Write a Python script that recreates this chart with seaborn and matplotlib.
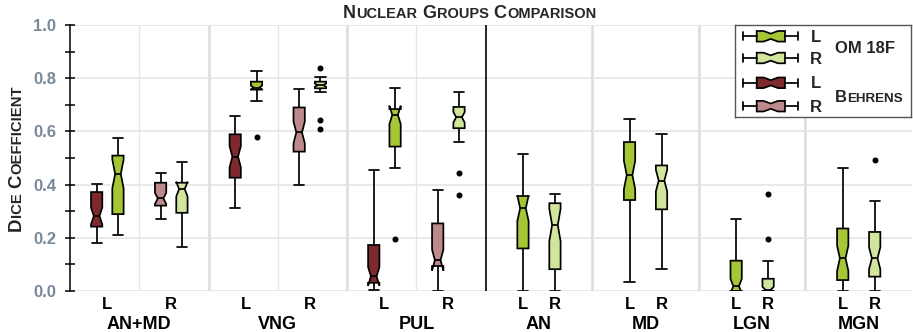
"""Nuclear groups comparison: Dice coefficient boxplots for OM 18F and Behrens."""

import matplotlib.pyplot as plt
import matplotlib.transforms as mtransforms
import numpy as np
import pandas as pd
import seaborn as sns
from matplotlib.patches import Polygon
from matplotlib.ticker import MultipleLocator

PAIRED_GROUPS = ["AN+MD", "VNG", "PUL"]
OM_ONLY_GROUPS = ["AN", "MD", "LGN", "MGN"]
SIDES = ["L", "R"]
METHODS = ["Behrens", "OM 18F"]

# Dice scores per subject (sorted), one list per box
ANMD_BEHRENS_L = [
    0.182, 0.19, 0.199, 0.205, 0.212, 0.218, 0.223, 0.229, 0.234, 0.238,
    0.242, 0.246, 0.249, 0.253, 0.258, 0.262, 0.266, 0.27, 0.275, 0.279,
    0.282, 0.29, 0.298, 0.307, 0.318, 0.326, 0.337, 0.348, 0.357, 0.366,
    0.372, 0.375, 0.378, 0.381, 0.384, 0.387, 0.39, 0.393, 0.396, 0.399, 0.402,
]
ANMD_OM_L = [
    0.209, 0.221, 0.236, 0.247, 0.255, 0.262, 0.268, 0.274, 0.279, 0.285,
    0.289, 0.301, 0.318, 0.334, 0.351, 0.368, 0.385, 0.402, 0.418, 0.431,
    0.44, 0.447, 0.455, 0.462, 0.469, 0.476, 0.484, 0.491, 0.497, 0.503,
    0.509, 0.514, 0.52, 0.526, 0.531, 0.537, 0.544, 0.551, 0.558, 0.566, 0.574,
]
ANMD_BEHRENS_R = [
    0.27, 0.278, 0.284, 0.29, 0.295, 0.3, 0.305, 0.31, 0.314, 0.318,
    0.321, 0.324, 0.327, 0.33, 0.333, 0.336, 0.339, 0.341, 0.344, 0.346,
    0.348, 0.354, 0.36, 0.366, 0.372, 0.378, 0.384, 0.391, 0.397, 0.402,
    0.407, 0.41, 0.414, 0.417, 0.421, 0.424, 0.428, 0.431, 0.435, 0.438, 0.442,
]
ANMD_OM_R = [
    0.167, 0.184, 0.203, 0.221, 0.237, 0.251, 0.263, 0.274, 0.283, 0.289,
    0.294, 0.306, 0.318, 0.329, 0.34, 0.35, 0.359, 0.367, 0.374, 0.379,
    0.383, 0.385, 0.388, 0.39, 0.392, 0.395, 0.397, 0.4, 0.402, 0.405,
    0.407, 0.414, 0.421, 0.429, 0.437, 0.446, 0.454, 0.462, 0.469, 0.477, 0.485,
]
VNG_BEHRENS_L = [
    0.313, 0.331, 0.347, 0.361, 0.374, 0.386, 0.397, 0.406, 0.414, 0.42,
    0.426, 0.434, 0.442, 0.45, 0.458, 0.466, 0.474, 0.482, 0.49, 0.498,
    0.505, 0.513, 0.521, 0.53, 0.538, 0.547, 0.556, 0.565, 0.574, 0.582,
    0.589, 0.596, 0.603, 0.61, 0.617, 0.624, 0.631, 0.638, 0.645, 0.652, 0.659,
]
VNG_OM_L = [
    0.578, 0.714, 0.724, 0.732, 0.739, 0.744, 0.748, 0.751, 0.753, 0.755,
    0.757, 0.758, 0.759, 0.76, 0.761, 0.761, 0.762, 0.763, 0.764, 0.764,
    0.765, 0.767, 0.769, 0.771, 0.773, 0.775, 0.777, 0.78, 0.782, 0.785,
    0.787, 0.79, 0.794, 0.798, 0.802, 0.806, 0.81, 0.814, 0.818, 0.823, 0.828,
]
VNG_BEHRENS_R = [
    0.397, 0.42, 0.441, 0.459, 0.474, 0.487, 0.498, 0.507, 0.514, 0.519,
    0.524, 0.531, 0.538, 0.545, 0.553, 0.56, 0.567, 0.575, 0.582, 0.589,
    0.596, 0.605, 0.614, 0.623, 0.633, 0.643, 0.653, 0.663, 0.673, 0.682,
    0.69, 0.697, 0.704, 0.711, 0.718, 0.725, 0.732, 0.739, 0.746, 0.753, 0.761,
]
VNG_OM_R = [
    0.61, 0.644, 0.749, 0.752, 0.754, 0.756, 0.757, 0.758, 0.759, 0.761,
    0.762, 0.763, 0.764, 0.765, 0.767, 0.768, 0.769, 0.77, 0.771, 0.773,
    0.774, 0.775, 0.776, 0.778, 0.779, 0.78, 0.782, 0.783, 0.784, 0.786,
    0.787, 0.789, 0.79, 0.792, 0.794, 0.796, 0.798, 0.8, 0.802, 0.805, 0.84,
]
PUL_BEHRENS_L = [
    0.004, 0.008, 0.011, 0.014, 0.017, 0.02, 0.022, 0.025, 0.027, 0.029,
    0.031, 0.033, 0.035, 0.037, 0.039, 0.041, 0.044, 0.047, 0.05, 0.052,
    0.055, 0.063, 0.072, 0.083, 0.095, 0.107, 0.12, 0.134, 0.148, 0.161,
    0.173, 0.186, 0.2, 0.215, 0.231, 0.252, 0.276, 0.305, 0.343, 0.392, 0.455,
]
PUL_OM_L = [
    0.195, 0.461, 0.478, 0.493, 0.505, 0.515, 0.523, 0.53, 0.535, 0.539,
    0.543, 0.556, 0.571, 0.585, 0.598, 0.61, 0.621, 0.633, 0.645, 0.655,
    0.662, 0.664, 0.666, 0.669, 0.671, 0.673, 0.676, 0.678, 0.68, 0.682,
    0.684, 0.691, 0.699, 0.706, 0.714, 0.722, 0.731, 0.739, 0.747, 0.756, 0.764,
]
PUL_BEHRENS_R = [
    0.0, 0.017, 0.032, 0.045, 0.056, 0.065, 0.073, 0.079, 0.085, 0.09,
    0.094, 0.097, 0.099, 0.101, 0.103, 0.106, 0.108, 0.11, 0.112, 0.114,
    0.116, 0.128, 0.14, 0.154, 0.168, 0.182, 0.196, 0.211, 0.226, 0.241,
    0.254, 0.265, 0.276, 0.287, 0.299, 0.31, 0.322, 0.334, 0.347, 0.362, 0.378,
]
PUL_OM_R = [
    0.362, 0.444, 0.559, 0.574, 0.585, 0.593, 0.599, 0.603, 0.606, 0.609,
    0.612, 0.617, 0.621, 0.626, 0.63, 0.634, 0.638, 0.642, 0.646, 0.65,
    0.653, 0.657, 0.661, 0.665, 0.669, 0.673, 0.677, 0.681, 0.685, 0.689,
    0.692, 0.697, 0.702, 0.708, 0.713, 0.719, 0.724, 0.73, 0.736, 0.742, 0.749,
]
AN_OM_L = [
    0.0, 0.025, 0.048, 0.069, 0.087, 0.103, 0.117, 0.129, 0.14, 0.151,
    0.16, 0.176, 0.193, 0.21, 0.227, 0.244, 0.261, 0.277, 0.292, 0.303,
    0.311, 0.316, 0.32, 0.325, 0.329, 0.334, 0.339, 0.344, 0.348, 0.353,
    0.357, 0.372, 0.388, 0.403, 0.418, 0.433, 0.448, 0.463, 0.478, 0.496, 0.515,
]
AN_OM_R = [
    0.0, 0.01, 0.02, 0.031, 0.041, 0.05, 0.058, 0.066, 0.072, 0.078,
    0.082, 0.098, 0.115, 0.132, 0.149, 0.166, 0.183, 0.2, 0.217, 0.233,
    0.248, 0.256, 0.264, 0.272, 0.28, 0.289, 0.297, 0.306, 0.314, 0.322,
    0.33, 0.333, 0.337, 0.34, 0.343, 0.347, 0.35, 0.353, 0.356, 0.36, 0.363,
]
MD_OM_L = [
    0.035, 0.083, 0.128, 0.168, 0.203, 0.234, 0.261, 0.285, 0.306, 0.325,
    0.342, 0.352, 0.362, 0.371, 0.381, 0.391, 0.401, 0.411, 0.42, 0.428,
    0.436, 0.448, 0.46, 0.472, 0.485, 0.497, 0.51, 0.523, 0.536, 0.548,
    0.56, 0.569, 0.578, 0.587, 0.596, 0.604, 0.613, 0.622, 0.63, 0.639, 0.647,
]
MD_OM_R = [
    0.083, 0.118, 0.15, 0.179, 0.205, 0.228, 0.249, 0.268, 0.284, 0.297,
    0.307, 0.319, 0.331, 0.343, 0.355, 0.366, 0.378, 0.389, 0.398, 0.407,
    0.415, 0.421, 0.426, 0.432, 0.438, 0.443, 0.449, 0.455, 0.461, 0.466,
    0.472, 0.484, 0.496, 0.508, 0.52, 0.532, 0.544, 0.556, 0.568, 0.579, 0.591,
]
LGN_OM_L = [
    0.0, 0.0, 0.0, 0.0, 0.0, 0.0, 0.0, 0.0, 0.0, 0.0,
    0.0, 0.002, 0.004, 0.006, 0.008, 0.01, 0.012, 0.014, 0.015, 0.017,
    0.018, 0.026, 0.034, 0.043, 0.052, 0.061, 0.071, 0.082, 0.093, 0.104,
    0.114, 0.127, 0.141, 0.155, 0.169, 0.184, 0.199, 0.215, 0.232, 0.251, 0.271,
]
LGN_OM_R = [
    0.0, 0.0, 0.0, 0.0, 0.0, 0.0, 0.0, 0.0, 0.0, 0.0,
    0.0, 0.0, 0.0, 0.001, 0.001, 0.002, 0.002, 0.003, 0.004, 0.004,
    0.005, 0.008, 0.011, 0.015, 0.019, 0.023, 0.028, 0.033, 0.038, 0.042,
    0.046, 0.053, 0.06, 0.067, 0.074, 0.081, 0.089, 0.097, 0.112, 0.197, 0.365,
]
MGN_OM_L = [
    0.0, 0.005, 0.01, 0.015, 0.019, 0.024, 0.028, 0.032, 0.035, 0.038,
    0.041, 0.049, 0.057, 0.065, 0.074, 0.082, 0.09, 0.099, 0.107, 0.115,
    0.123, 0.134, 0.145, 0.156, 0.168, 0.179, 0.19, 0.202, 0.213, 0.224,
    0.235, 0.252, 0.27, 0.288, 0.308, 0.328, 0.35, 0.374, 0.4, 0.429, 0.461,
]
MGN_OM_R = [
    0.0, 0.007, 0.014, 0.021, 0.027, 0.033, 0.038, 0.043, 0.047, 0.051,
    0.054, 0.061, 0.068, 0.075, 0.082, 0.089, 0.096, 0.103, 0.11, 0.117,
    0.123, 0.132, 0.142, 0.152, 0.162, 0.172, 0.182, 0.192, 0.202, 0.212,
    0.222, 0.233, 0.244, 0.255, 0.266, 0.277, 0.289, 0.301, 0.313, 0.338, 0.492,
]

BOXES = [
    ("AN+MD", "L", "Behrens", ANMD_BEHRENS_L),
    ("AN+MD", "L", "OM 18F", ANMD_OM_L),
    ("AN+MD", "R", "Behrens", ANMD_BEHRENS_R),
    ("AN+MD", "R", "OM 18F", ANMD_OM_R),
    ("VNG", "L", "Behrens", VNG_BEHRENS_L),
    ("VNG", "L", "OM 18F", VNG_OM_L),
    ("VNG", "R", "Behrens", VNG_BEHRENS_R),
    ("VNG", "R", "OM 18F", VNG_OM_R),
    ("PUL", "L", "Behrens", PUL_BEHRENS_L),
    ("PUL", "L", "OM 18F", PUL_OM_L),
    ("PUL", "R", "Behrens", PUL_BEHRENS_R),
    ("PUL", "R", "OM 18F", PUL_OM_R),
    ("AN", "L", "OM 18F", AN_OM_L),
    ("AN", "R", "OM 18F", AN_OM_R),
    ("MD", "L", "OM 18F", MD_OM_L),
    ("MD", "R", "OM 18F", MD_OM_R),
    ("LGN", "L", "OM 18F", LGN_OM_L),
    ("LGN", "R", "OM 18F", LGN_OM_R),
    ("MGN", "L", "OM 18F", MGN_OM_L),
    ("MGN", "R", "OM 18F", MGN_OM_R),
]

PALETTES = {
    "OM 18F": {"L": "#a5c736", "R": "#d2e59d"},
    "Behrens": {"L": "#7e2a2d", "R": "#bc8a8c"},
}
WHIS = {"OM 18F": 1.5, "Behrens": 2.0}

PAIRED_WIDTH = 1.3
BOX_WIDTH = 0.106
LINE_W = 1.25
FIG_W, FIG_H = 913, 332


def group_center(group: str) -> float:
    if group in PAIRED_GROUPS:
        return PAIRED_WIDTH * (PAIRED_GROUPS.index(group) + 0.5)
    return PAIRED_WIDTH * len(PAIRED_GROUPS) + OM_ONLY_GROUPS.index(group) + 0.5


def side_center(group: str, side: str) -> float:
    offset = 0.3 if group in PAIRED_GROUPS else 0.15
    return group_center(group) + (offset if side == "R" else -offset)


def box_position(group: str, side: str, method: str) -> float:
    pos = side_center(group, side)
    if group in PAIRED_GROUPS:
        pos += 0.1 if method == "OM 18F" else -0.1
    return round(pos, 3)


def draw_small_caps(fig, text, x, y, big, small, rotation=0, align="center"):
    """Bold small-caps text; (x, y) is the baseline anchor in figure pixels."""
    renderer = fig.canvas.get_renderer()
    pieces = []
    for i, word in enumerate(text.split()):
        if i:
            pieces.append((None, small))
        pieces.append((word[0].upper(), big))
        if word[1:]:
            pieces.append((word[1:].upper(), small))

    widths = []
    for chunk, size in pieces:
        if chunk is None:
            widths.append(0.3 * size)
            continue
        probe = fig.text(0, 0, chunk, fontsize=size, fontweight="bold")
        widths.append(probe.get_window_extent(renderer).width * 72 / fig.dpi + 0.4)
        probe.remove()

    offset = -sum(widths) / 2 if align == "center" else 0.0
    for (chunk, size), width in zip(pieces, widths):
        if chunk is not None:
            dx, dy = (0, offset) if rotation == 90 else (offset, 0)
            trans = fig.transFigure + mtransforms.ScaledTranslation(
                dx / 72, dy / 72, fig.dpi_scale_trans
            )
            fig.text(x / FIG_W, y / FIG_H, chunk, fontsize=size, fontweight="bold",
                     rotation=rotation, rotation_mode="anchor", ha="left",
                     va="baseline", transform=trans)
        offset += width


records = []
for group, side, method, values in BOXES:
    for v in values:
        records.append({"group": group, "side": side, "method": method,
                        "pos": box_position(group, side, method), "dice": v})
df = pd.DataFrame(records)

sns.set_theme(style="white")
plt.rcParams["font.family"] = ["Liberation Sans", "DejaVu Sans"]
plt.rcParams["font.weight"] = "bold"

fig = plt.figure(figsize=(FIG_W / 100, FIG_H / 100), dpi=100)
ax = fig.add_axes([70 / FIG_W, 41 / FIG_H, 842 / FIG_W, 266 / FIG_H])

for method in METHODS:
    sub = df[df["method"] == method]
    spacing = np.diff(np.sort(sub["pos"].unique())).min()
    sns.boxplot(
        data=sub, x="pos", y="dice", hue="side", hue_order=SIDES,
        palette=PALETTES[method], native_scale=True, notch=True,
        whis=WHIS[method], width=BOX_WIDTH / spacing, dodge=False,
        saturation=1, linecolor="black", linewidth=LINE_W,
        capwidths=BOX_WIDTH * 0.9, legend=False, ax=ax,
        medianprops=dict(color="black", linewidth=LINE_W),
        flierprops=dict(marker="o", markersize=3.3, markerfacecolor="black",
                        markeredgecolor="black"),
    )

x_end = PAIRED_WIDTH * len(PAIRED_GROUPS) + len(OM_ONLY_GROUPS)
ax.set_xlim(0, x_end)
ax.set_ylim(0, 1.0)
ax.set_xlabel("")
ax.set_ylabel("")

# grid and separators
ax.set_axisbelow(True)
ax.yaxis.grid(True, color="#e3e3e3", linewidth=1.1)
for g in PAIRED_GROUPS:
    ax.axvline(group_center(g), color="#e6e6e6", linewidth=1.0, zorder=0)
boundaries = [PAIRED_WIDTH, 2 * PAIRED_WIDTH]
boundaries += [PAIRED_WIDTH * len(PAIRED_GROUPS) + k for k in range(1, len(OM_ONLY_GROUPS))]
for b in boundaries:
    ax.axvline(b, color="#dcdcdc", linewidth=1.8, zorder=0)
ax.axvline(PAIRED_WIDTH * len(PAIRED_GROUPS), color="black", linewidth=1.2, zorder=0.6)

for name in ["top", "right", "bottom"]:
    ax.spines[name].set_visible(False)
ax.spines["left"].set_color("black")
ax.spines["left"].set_linewidth(1.1)

ax.yaxis.set_major_locator(MultipleLocator(0.2))
ax.yaxis.set_minor_locator(MultipleLocator(0.1))
ax.tick_params(axis="y", which="both", direction="inout", length=7.2, width=1.1,
               color="black", left=True)
ax.tick_params(axis="y", which="major", labelsize=12, labelcolor="#778899", pad=6.2)

all_groups = PAIRED_GROUPS + OM_ONLY_GROUPS
lr_pos = [side_center(g, s) for g in all_groups for s in SIDES]
lr_lab = [s for g in all_groups for s in SIDES]
ax.set_xticks(lr_pos, lr_lab)
ax.set_xticks([group_center(g) for g in all_groups], all_groups, minor=True)
ax.tick_params(axis="x", which="major", length=0, pad=4, labelsize=12, labelcolor="black")
ax.tick_params(axis="x", which="minor", length=0, pad=18, labelsize=13, labelcolor="black")

# legend box
leg = fig.add_axes([735 / FIG_W, (FIG_H - 117) / FIG_H, 176 / FIG_W, 92 / FIG_H])
leg.set_xlim(0, 176)
leg.set_ylim(92, 0)
leg.set_xticks([])
leg.set_yticks([])
leg.set_facecolor("white")
for spine in leg.spines.values():
    spine.set_visible(True)
    spine.set_color("#555555")
    spine.set_linewidth(1.0)

legend_rows = [("OM 18F", "L"), ("OM 18F", "R"), ("Behrens", "L"), ("Behrens", "R")]
row_y = [11.3, 33.0, 57.8, 81.2]
for (method, side), y in zip(legend_rows, row_y):
    h = 5.3
    leg.plot([8.3, 21.7], [y, y], color="black", lw=LINE_W)
    leg.plot([50, 62.7], [y, y], color="black", lw=LINE_W)
    leg.plot([8.3, 8.3], [y - 4, y + 4], color="black", lw=LINE_W)
    leg.plot([62.7, 62.7], [y - 4, y + 4], color="black", lw=LINE_W)
    leg.add_patch(Polygon(
        [(21.7, y - h), (28.5, y - h), (35.8, y - h / 2), (43, y - h), (50, y - h),
         (50, y + h), (43, y + h), (35.8, y + h / 2), (28.5, y + h), (21.7, y + h)],
        closed=True, facecolor=PALETTES[method][side], edgecolor="black", lw=LINE_W))
    leg.text(81, y + 1, side, ha="center", va="center", fontsize=12, fontweight="bold")
leg.text(100, 28.3, "OM 18F", ha="left", va="baseline", fontsize=12, fontweight="bold")

draw_small_caps(fig, "Nuclear Groups Comparison", 470, FIG_H - 18.3, 13, 10.5)
draw_small_caps(fig, "Dice Coefficient", 21, FIG_H - 158, 13.4, 10.7, rotation=90)
draw_small_caps(fig, "Behrens", 835, FIG_H - 101.7, 12, 9.6, align="left")

fig.savefig("out.png", dpi=100)
